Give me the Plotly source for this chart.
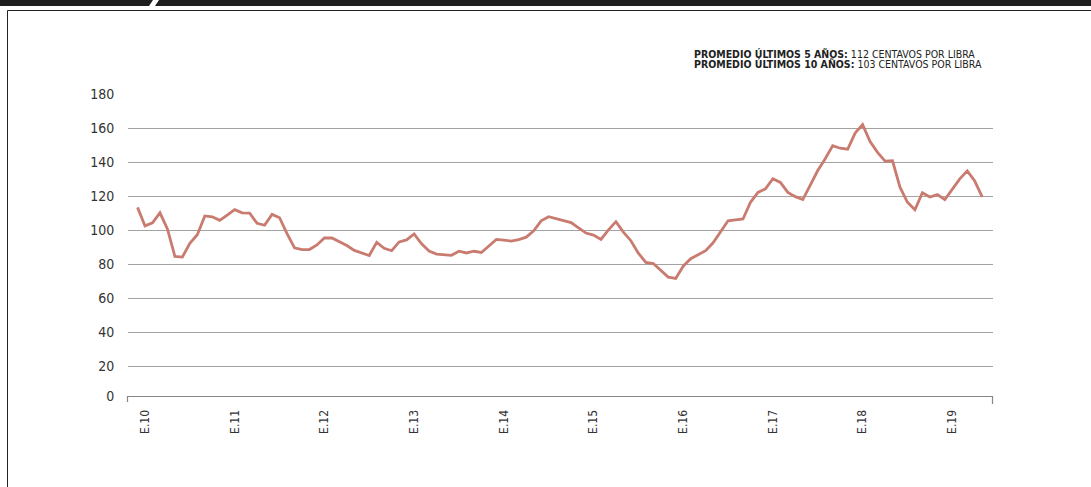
import plotly.graph_objects as go

# ---- data (monthly, month index 0 = Jan 2010) ----
months = list(range(-1, 113))
prices = [113.3, 102.4, 104.2, 110.1, 100.6, 84.5, 84.1, 92.2, 97.2, 108.3,
          107.8, 105.7, 108.7, 112.0, 110.1, 109.9, 103.9, 102.8, 109.2, 107.2,
          97.9, 89.5, 88.5, 88.5, 91.2, 95.3, 95.3, 93.3, 90.9, 88.0,
          86.5, 85.0, 92.7, 89.2, 87.8, 93.0, 94.2, 97.7, 91.9, 87.6,
          85.8, 85.5, 85.1, 87.5, 86.5, 87.5, 86.8, 90.6, 94.5, 94.1,
          93.5, 94.4, 95.8, 99.5, 105.4, 107.8, 106.6, 105.8, 104.4, 101.3,
          98.2, 97.0, 94.5, 100.1, 104.9, 98.8, 93.7, 86.4, 80.9, 80.3,
          76.0, 72.3, 71.5, 78.7, 83.1, 85.5, 87.8, 92.5, 99.0, 105.4,
          106.0, 106.5, 116.3, 122.1, 124.2, 130.2, 128.0, 122.1, 119.6, 117.9,
          126.4, 135.0, 141.9, 149.6, 148.1, 147.5, 157.0, 162.0, 152.0, 145.7,
          140.5, 140.7, 125.2, 116.3, 111.9, 121.9, 119.4, 120.8, 117.9, 124.3,
          130.1, 134.8, 128.8, 119.5]
tick_months = [0, 12, 24, 36, 48, 60, 72, 84, 96, 108]
tick_labels = ["E.10", "E.11", "E.12", "E.13", "E.14", "E.15", "E.16", "E.17", "E.18", "E.19"]
y_ticks = [0, 20, 40, 60, 80, 100, 120, 140, 160, 180]
note_lines = [("PROMEDIO ÚLTIMOS 5 AÑOS:", "112 CENTAVOS POR LIBRA"),
              ("PROMEDIO ÚLTIMOS 10 AÑOS:", "103 CENTAVOS POR LIBRA")]

W, H = 1091, 487
L, R, T, B = 128, 993, 94, 396
PW, PH = R - L, B - T
Y_BOTTOM = 2.35  # axis line sits slightly above true zero in the original
FONT = "Liberation Sans Narrow, DejaVu Sans Condensed, Arial Narrow, sans-serif"


def px(x):
    return (x - L) / PW


def py(y):
    return (B - y) / PH


fig = go.Figure()
fig.add_trace(go.Scatter(
    x=months, y=prices, mode="lines",
    line=dict(color="#c97b70", width=2.8),
    hoverinfo="skip", showlegend=False,
))

y_tickvals = [Y_BOTTOM if v == 0 else v for v in y_ticks]

shapes = [
    # frame
    dict(type="rect", xref="paper", yref="paper",
         x0=px(7.5), x1=px(1100), y0=py(520), y1=py(10.5),
         line=dict(color="#222", width=1), fillcolor="rgba(0,0,0,0)", layer="below"),
    # top black bar (two pieces with slanted gap)
    dict(type="path", xref="paper", yref="paper",
         path=f"M {px(0)},{py(0)} L {px(153)},{py(0)} L {px(149)},{py(6)} L {px(0)},{py(6)} Z",
         line=dict(width=0), fillcolor="#1e1e1e"),
    dict(type="path", xref="paper", yref="paper",
         path=f"M {px(159)},{py(0)} L {px(1100)},{py(0)} L {px(1100)},{py(6)} L {px(155)},{py(6)} Z",
         line=dict(width=0), fillcolor="#1e1e1e"),
    # end ticks of the x axis
    dict(type="line", xref="paper", yref="paper",
         x0=px(127.5), x1=px(127.5), y0=py(396), y1=py(402),
         line=dict(color="#888", width=1.2)),
    dict(type="line", xref="paper", yref="paper",
         x0=px(992.5), x1=px(992.5), y0=py(396), y1=py(404),
         line=dict(color="#888", width=1.2)),
]

annotations = []
for i, (bold, rest) in enumerate(note_lines):
    annotations.append(dict(
        xref="paper", yref="paper", x=px(692), y=py(53.5 + 10.5 * i),
        xanchor="left", yanchor="middle", showarrow=False, align="left",
        text=f"<b>{bold}</b> {rest}",
        font=dict(family=FONT, size=10.5, color="#222"),
    ))

fig.update_layout(
    width=W, height=H,
    margin=dict(l=L, r=W - R, t=T, b=H - B, pad=0),
    paper_bgcolor="white", plot_bgcolor="white",
    shapes=shapes, annotations=annotations,
    xaxis=dict(
        range=[(L - 145) / 7.475, (R - 145) / 7.475],
        tickvals=tick_months, ticktext=tick_labels,
        tickangle=-90, showgrid=False, zeroline=False,
        showline=True, linecolor="#888", linewidth=1.2,
        ticks="outside", ticklen=8, tickcolor="rgba(0,0,0,0)",
        tickfont=dict(family=FONT, size=12, color="#333"),
    ),
    yaxis=dict(
        range=[Y_BOTTOM, 180],
        tickvals=y_tickvals, ticktext=[str(v) for v in y_ticks],
        showgrid=True, gridcolor="#a3a3a3", gridwidth=1.4,
        zeroline=False, showline=False,
        ticks="outside", ticklen=10, tickcolor="rgba(0,0,0,0)",
        tickfont=dict(family=FONT, size=14, color="#333"),
    ),
)

fig.write_html("out.html", config={"displayModeBar": False},
               post_script="document.body.style.margin='0';")
